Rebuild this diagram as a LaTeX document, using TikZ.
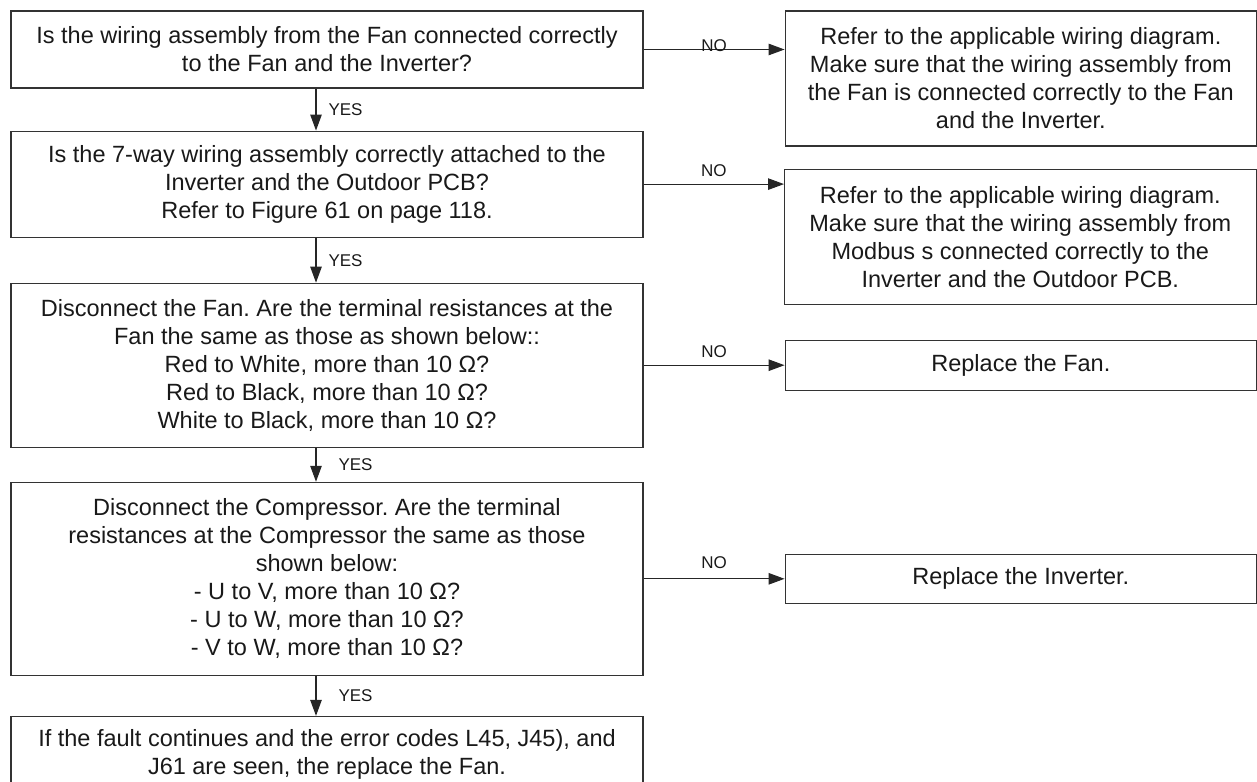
\documentclass[tikz,border=0pt]{standalone}
\usepackage{fontspec}
\setmainfont{Liberation Sans}
\usepackage{tikz}
\usetikzlibrary{arrows.meta, positioning}
\frenchspacing

\newcommand\boxfont{\fontsize{23.5}{28}\selectfont}
\newcommand\tagfont{\fontsize{17}{20}\selectfont}

\begin{document}
\begin{tikzpicture}[
  x=1pt, y=-1pt,
  check/.style={draw=black!80, line width=1.1pt, text=black!90, align=center, font=\boxfont, minimum width=632pt, inner sep=4pt},
  answer/.style={check, minimum width=471.5pt},
  flow/.style={draw=black!85, line width=1.1pt, -{Triangle[length=16pt, width=11.5pt]}},
  tag/.style={font=\tagfont, text=black!90, inner sep=2pt},
]
\useasboundingbox (0,0) rectangle (1257,781);
\clip (0,0) rectangle (1257,781);
% questions down the left
\node[check, minimum height=77pt] (q1) at (327,49.5) {Is the wiring assembly from the Fan connected correctly\\ to the Fan and the Inverter?};
\node[check, minimum height=106pt, below=42pt of q1] (q2) {Is the 7-way wiring assembly correctly attached to the\\ Inverter and the Outdoor PCB?\\ Refer to Figure 61 on page 118.};
\node[check, minimum height=164pt, below=45pt of q2] (q3) {Disconnect the Fan. Are the terminal resistances at the\\ Fan the same as those as shown below::\\ Red to White, more than 10 Ω?\\ Red to Black, more than 10 Ω?\\ White to Black, more than 10 Ω?};
\node[check, minimum height=193pt, below=34pt of q3] (q4) {Disconnect the Compressor. Are the terminal\\ resistances at the Compressor the same as those\\ shown below:\\ - U to V, more than 10 Ω?\\ - U to W, more than 10 Ω?\\ - V to W, more than 10 Ω?};
\node[check, minimum height=77pt, below=40pt of q4] (q5) {If the fault continues and the error codes L45, J45), and\\ J61 are seen, the replace the Fan.};
% actions on the right
\node[answer, minimum height=135pt, right=141pt of q1.north east, anchor=north west] (a1) {Refer to the applicable wiring diagram.\\ Make sure that the wiring assembly from\\ the Fan is connected correctly to the Fan\\ and the Inverter.};
\node[answer, minimum height=135pt, anchor=north west] (a2) at (784,169) {Refer to the applicable wiring diagram.\\ Make sure that the wiring assembly from\\ Modbus s connected correctly to the\\ Inverter and the Outdoor PCB.};
\node[answer, minimum height=50pt, right=141pt of q3] (a3) {Replace the Fan.};
\node[answer, minimum height=49pt, right=141pt of q4] (a4) {Replace the Inverter.};
% yes branches
\draw[flow] ([xshift=-11pt]q1.south) -- ([xshift=-11pt]q2.north) node[tag, midway, right=10pt]{YES};
\draw[flow] ([xshift=-11pt]q2.south) -- ([xshift=-11pt]q3.north) node[tag, midway, right=10pt]{YES};
\draw[flow] ([xshift=-11pt]q3.south) -- ([xshift=-11pt]q4.north) node[tag, midway, right=20pt]{YES};
\draw[flow] ([xshift=-11pt]q4.south) -- ([xshift=-11pt]q5.north) node[tag, midway, right=20pt]{YES};
% no branches
\draw[flow] (q1.east) -- (q1.east -| a1.west) node[tag, midway, above=-5pt]{NO};
\draw[flow] (q2.east) -- (q2.east -| a2.west) node[tag, midway, above=5pt]{NO};
\draw[flow] (q3.east) -- (q3.east -| a3.west) node[tag, midway, above=5pt]{NO};
\draw[flow] (q4.east) -- (q4.east -| a4.west) node[tag, midway, above=8pt]{NO};
\end{tikzpicture}
\end{document}
